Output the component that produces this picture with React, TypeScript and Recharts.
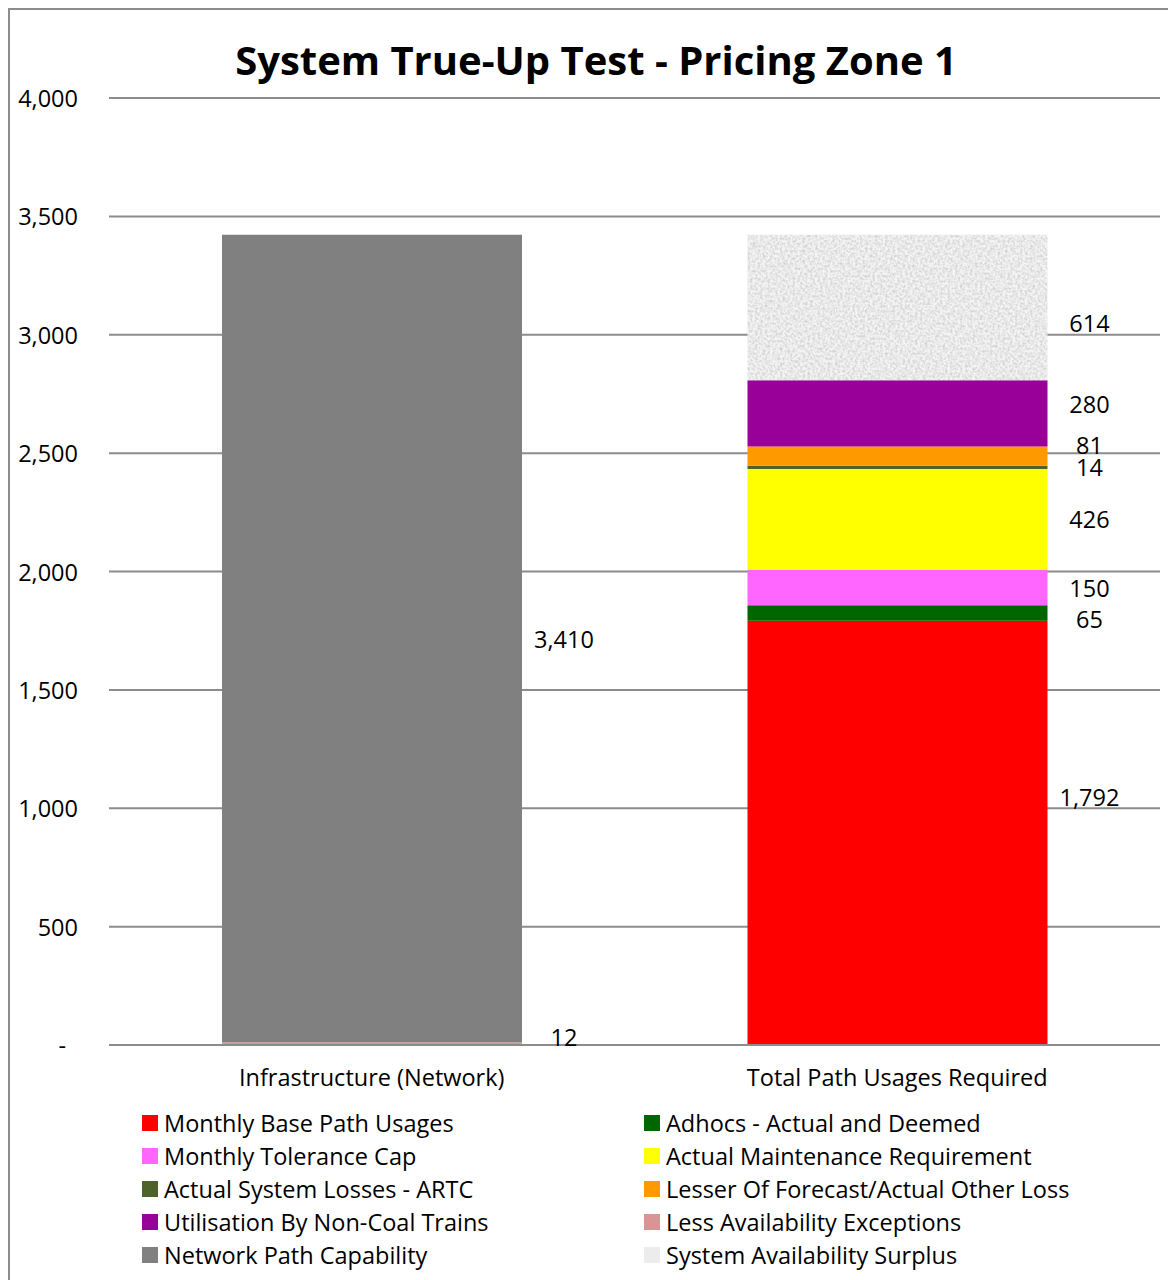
import React from "react";
import { BarChart, Bar, XAxis, YAxis, CartesianGrid, LabelList } from "recharts";

const categories = ["Infrastructure (Network)", "Total Path Usages Required"];
const monthlyBase = [null, 1792];
const adhocs = [null, 65];
const tolerance = [null, 150];
const maintenance = [null, 426];
const systemLosses = [null, 14];
const otherLoss = [null, 81];
const nonCoal = [null, 280];
const exceptions = [12, null];
const capability = [3410, null];
const surplus = [null, 614];
const yTicks = [0, 500, 1000, 1500, 2000, 2500, 3000, 3500, 4000];

const seriesDefs = [
  { key: "base", name: "Monthly Base Path Usages", values: monthlyBase, color: "#FF0000" },
  { key: "adhocs", name: "Adhocs - Actual and Deemed", values: adhocs, color: "#006600" },
  { key: "tolerance", name: "Monthly Tolerance Cap", values: tolerance, color: "#FF66FF" },
  { key: "maintenance", name: "Actual Maintenance Requirement", values: maintenance, color: "#FFFF00" },
  { key: "losses", name: "Actual System Losses - ARTC", values: systemLosses, color: "#4F6228" },
  { key: "other", name: "Lesser Of Forecast/Actual Other Loss", values: otherLoss, color: "#FF9900" },
  { key: "noncoal", name: "Utilisation By Non-Coal Trains", values: nonCoal, color: "#990099" },
  { key: "exceptions", name: "Less Availability Exceptions", values: exceptions, color: "#D99594" },
  { key: "capability", name: "Network Path Capability", values: capability, color: "#808080" },
  { key: "surplus", name: "System Availability Surplus", values: surplus, color: "url(#noisePattern)" },
];

// label vertical nudges (Excel label placement)
const labelDy: Record<string, number> = {
  base: -36, adhocs: 6, tolerance: 0, maintenance: 0, losses: 0, other: -11, noncoal: -9, exceptions: -7, capability: 0, surplus: 15,
};

const data = categories.map((c, i) => {
  const row: any = { name: c };
  seriesDefs.forEach((s) => (row[s.key] = s.values[i]));
  return row;
});

const FONT = "'Open Sans', Lato, sans-serif";
const FS = 23.5;

const fmt = (v: number) => v.toLocaleString("en-US");

const makeLabel = (key: string) => (props: any) => {
  const { x, y, width, height, value } = props;
  if (value == null || value === 0) return null;
  return (
    <text
      x={x + width + 42}
      y={y + height / 2 + (labelDy[key] || 0)}
      textAnchor="middle"
      dominantBaseline="central"
      fontSize={FS}
      fontFamily={FONT}
      fill="#000"
    >
      {fmt(value)}
    </text>
  );
};

const YTick = (props: any) => {
  const { x, y, payload } = props;
  const v = payload.value;
  return (
    <text x={v === 0 ? x - 12 : x} y={y} textAnchor="end" dominantBaseline="central" fontSize={FS} fontFamily={FONT} fill="#000">
      {v === 0 ? "-" : fmt(v)}
    </text>
  );
};

export default function App() {
  const legendRows: any[][] = [];
  for (let i = 0; i < seriesDefs.length; i += 2) legendRows.push(seriesDefs.slice(i, i + 2));
  return (
    <div style={{ position: "relative", width: 1180, height: 1285, border: "2px solid #8c8c8c", marginTop: 0, boxSizing: "border-box", fontFamily: FONT }}>
      <div style={{ position: "absolute", left: 0, width: 1172, top: 26, textAlign: "center", fontSize: 40, fontWeight: 700, color: "#000", lineHeight: "48px" }}>
        System True-Up Test - Pricing Zone 1
      </div>
      <div style={{ position: "absolute", left: -2, top: -2 }}>
        <BarChart width={1168} height={1272} data={data} margin={{ top: 90, right: 16, left: 11, bottom: 195 }} barSize={300}>
          <defs>
            <filter id="noiseF" x="0" y="0" width="100%" height="100%">
              <feTurbulence type="fractalNoise" baseFrequency="0.4" numOctaves="2" seed="3" />
              <feColorMatrix type="matrix" values="0 0 0 0 0.5  0 0 0 0 0.5  0 0 0 0 0.5  1.3 0 0 0 -0.45" />
            </filter>
            <pattern id="noisePattern" patternUnits="userSpaceOnUse" width="320" height="200">
              <rect width="320" height="200" fill="#f4f4f4" />
              <rect width="320" height="200" filter="url(#noiseF)" />
            </pattern>
          </defs>
          <CartesianGrid vertical={false} stroke="#8c8c8c" strokeWidth={2} />
          <XAxis
            dataKey="name"
            axisLine={{ stroke: "#8c8c8c", strokeWidth: 2 }}
            tickLine={false}
            tickSize={0}
            tickMargin={24}
            height={40}
            tick={{ fontSize: FS, fontFamily: FONT, fill: "#000" }}
          />
          <YAxis
            domain={[0, 4000]}
            ticks={yTicks}
            axisLine={false}
            tickLine={false}
            tickSize={0}
            tickMargin={31}
            width={90}
            tick={<YTick />}
            interval={0}
          />
          {seriesDefs.map((s) => (
            <Bar key={s.key} dataKey={s.key} name={s.name} stackId="a" fill={s.color} isAnimationActive={false}>
              <LabelList dataKey={s.key} content={makeLabel(s.key)} />
            </Bar>
          ))}
        </BarChart>
      </div>
      <div style={{ position: "absolute", left: 132, top: 1097, width: 1040 }}>
        {legendRows.map((row, ri) => (
          <div key={ri} style={{ display: "flex", height: 32.8, alignItems: "center" }}>
            {row.map((s: any) => (
              <div key={s.key} style={{ width: 502, display: "flex", alignItems: "center", fontSize: FS, color: "#000" }}>
                <svg width={16} height={16} style={{ marginRight: 6 }}>
                  <rect width={16} height={16} fill={s.key === "surplus" ? "#ececec" : s.color} />
                </svg>
                <span>{s.name}</span>
              </div>
            ))}
          </div>
        ))}
      </div>
    </div>
  );
}
